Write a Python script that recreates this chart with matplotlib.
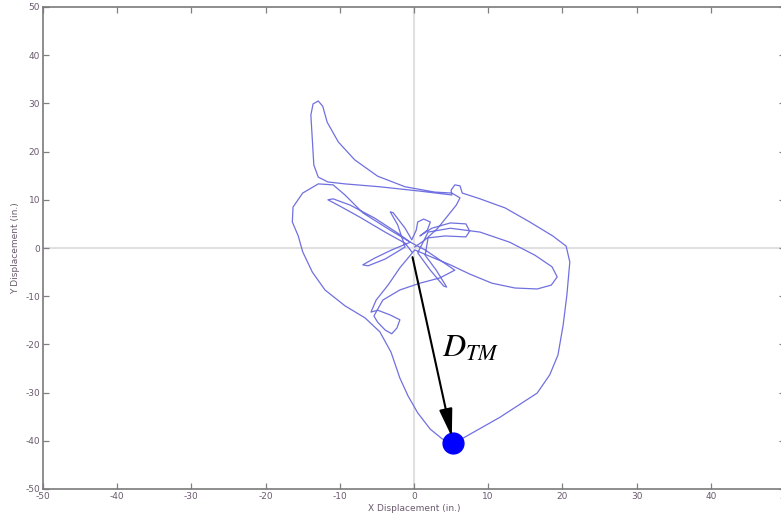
import matplotlib
matplotlib.use("Agg")
import matplotlib.pyplot as plt
import numpy as np

# trajectory of the target (inches), traced in order
x_disp = [
    -0.3, -1.2, -3.9, -7.3, -10.0, -11.6, -10.9, -8.6, -5.3, -2.2, -0.5,
    -3.0, -5.3, -6.9, -6.2, -3.9, -1.2,
    -2.2, -3.2, -2.8, -1.2, -0.3,
    0.3, 0.5, 1.3, 2.2, 1.8, 0.8,
    2.4, 4.9, 7.0, 7.5, 7.0, 4.2, 1.9,
    1.5, 3.0, 4.4, 4.0, 2.2, 0.5,
    1.9, 4.9, 8.9, 12.9, 16.3, 18.6, 19.3, 18.5, 16.6, 13.6, 10.5, 7.5, 4.9, 2.4, 0.1,
    -1.9, -3.5, -5.1, -5.8, -4.9, -3.2, -1.9, -2.3, -3.0, -3.9, -4.9, -5.4,
    -4.2, -1.9, 0.8, 3.5, 5.5, 1.5,
    -0.5, -3.2, -6.9, -9.3, -10.9,
    -12.9, -15.0, -16.3, -16.4, -15.6, -15.0, -13.7, -12.0, -9.3, -6.6, -4.6,
    -3.1, -1.9, -0.8, 0.5, 2.2, 3.8, 5.3,
    6.9, 11.6, 16.6, 18.3, 19.4, 20.1, 20.6, 21.0, 20.5, 18.7, 15.6, 12.3, 8.9, 6.5,
    6.2, 5.5, 5.0, 5.1,
    0.8, -4.6, -9.3, -11.6, -12.9,
    -13.5, -13.7, -13.9, -13.6, -12.9, -12.3, -11.7, -10.2, -8.0, -4.9, -1.2, 2.8, 5.1,
    6.2, 5.7, 4.6, 3.2, 1.5, 0.1,
]
y_disp = [
    -0.8, 1.0, 3.3, 6.4, 8.7, 10.0, 10.2, 8.9, 6.2, 3.1, 1.2,
    -0.4, -2.1, -3.5, -3.7, -2.3, 0.2,
    4.8, 7.5, 7.3, 4.1, 1.7,
    3.7, 5.4, 6.0, 5.4, 3.7, 2.5,
    4.1, 5.2, 5.0, 3.5, 2.3, 2.5, 2.1,
    -1.5, -4.6, -8.1, -7.9, -4.6, -1.0,
    3.3, 4.1, 3.3, 1.2, -1.5, -3.9, -6.0, -7.7, -8.5, -8.3, -7.3, -5.4, -3.5, -1.9, -0.4,
    -4.1, -7.7, -10.8, -13.3, -12.9, -13.9, -14.9, -16.6, -17.8, -17.0, -15.4, -14.1,
    -10.8, -8.7, -7.3, -6.2, -4.6, -0.4,
    1.2, 3.7, 7.3, 11.0, 13.1,
    13.3, 11.4, 8.5, 5.4, 2.5, -0.8, -5.0, -8.7, -12.0, -14.5, -17.4,
    -21.6, -27.0, -30.7, -34.2, -37.6, -39.6, -40.5,
    -39.2, -35.1, -30.1, -26.3, -22.2, -16.0, -9.8, -2.9, 0.4, 2.5, 5.4, 8.3, 10.2, 11.4,
    12.9, 13.1, 12.0, 11.0,
    11.8, 12.7, 13.3, 13.7, 14.7,
    17.2, 22.4, 27.6, 29.9, 30.5, 29.4, 26.1, 22.0, 18.3, 14.9, 12.7, 11.6, 11.4,
    10.4, 8.9, 6.8, 4.1, 1.7, 0.2,
]

# displacement vector
start_pt = (-0.2, -1.9)
max_pt = (5.3, -40.5)

tick_vals = [-50, -40, -30, -20, -10, 0, 10, 20, 30, 40, 50]

plt.rcParams["mathtext.fontset"] = "stix"
plt.rcParams["axes.unicode_minus"] = False

fig = plt.figure(figsize=(7.81, 5.14), dpi=100)
ax = fig.add_axes([43 / 781, 25 / 514, 742 / 781, 482 / 514])

ax.axhline(0, color="#e0e0e0", lw=1.5, zorder=1)
ax.axvline(0, color="#e0e0e0", lw=1.5, zorder=1)

ax.plot(x_disp, y_disp, color="#7070e0", lw=0.9, zorder=2)

ax.plot(max_pt[0], max_pt[1], "o", color="#0000ff", ms=15, zorder=3)
ax.annotate("", xy=(max_pt[0] - 0.2, max_pt[1] + 1.3), xytext=start_pt,
            arrowprops=dict(arrowstyle="-|>,head_length=1.7,head_width=0.4",
                            color="black", lw=1.5, shrinkA=0, shrinkB=0),
            zorder=4)
ax.text(3.8, -22.5, r"$D_{TM}$", fontsize=23, color="black", zorder=4)

ax.set_xlim(-50, 50)
ax.set_ylim(-50, 50)
ax.set_xticks(tick_vals)
ax.set_yticks(tick_vals)

lab_col = "#6a5a6e"
ax.tick_params(direction="in", length=4, width=0.9, color="#808080",
               top=True, right=True, labelsize=6.5, labelcolor=lab_col, pad=2)
for s in ax.spines.values():
    s.set_color("#7a7a7a")
    s.set_linewidth(1.2)

ax.set_xlabel("X Displacement (in.)", fontsize=6.5, color=lab_col, labelpad=2)
ax.set_ylabel("Y Displacement (in.)", fontsize=6.5, color=lab_col, labelpad=4)

fig.savefig("out.png", dpi=100)
